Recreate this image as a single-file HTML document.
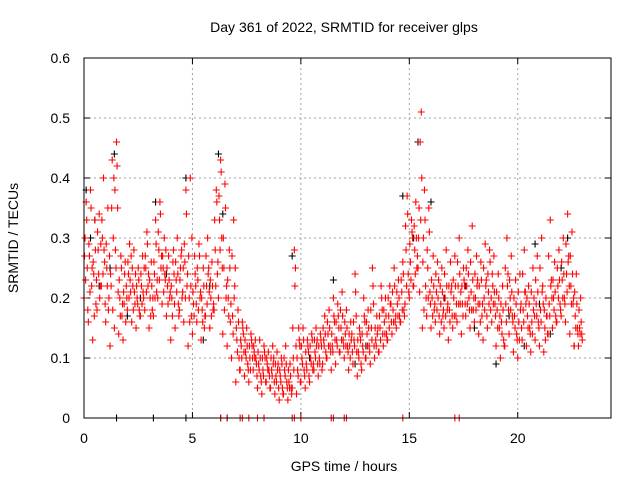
<!DOCTYPE html>
<html><head><meta charset="utf-8"><style>
body{margin:0;background:#fff;font-family:"Liberation Sans",sans-serif}
svg text{font-family:"Liberation Sans",sans-serif;font-size:14px;fill:#000}
</style></head><body>
<svg id="chart" width="640" height="480" xmlns="http://www.w3.org/2000/svg">
<rect width="640" height="480" fill="#fff"/>
<text x="344" y="32" text-anchor="middle">Day 361 of 2022, SRMTID for receiver glps</text>
<text x="344" y="471" text-anchor="middle">GPS time / hours</text>
<text transform="translate(18,238) rotate(-90)" text-anchor="middle">SRMTID / TECUs</text>
<g id="grid"></g><g id="ticks"></g><g id="black"></g><g id="red"></g>
<rect x="84" y="58" width="527" height="360" fill="none" stroke="#000"/>
</svg>
<script>
const xTicks=[0,5,10,15,20];
const yTicks=[0,0.1,0.2,0.3,0.4,0.5,0.6];
const binStart=0, binStep=0.2;
const redBins=[
[20,30,36,25],[16,27,38,22],[13,24,33,19],[18,28,34,22],[22,30,40,26],[16,25,35,20],[12,22,43,30],[15,28,46,35],[14,20,27,17],[13,19,26,22],
[18,24,29,21],[16,22,28,19],[15,20,25,18],[17,22,27,20],[18,25,31,22],[15,20,26,18],[17,24,33,21],[20,28,36,25],[19,25,30,23],[17,22,27,20],
[13,20,26,24],[15,23,30,19],[18,25,28,21],[16,26,38,22],[12,20,40,17],[14,19,27,22],[16,23,29,20],[13,18,25,15],[17,22,30,25],[15,20,26,18],
[18,28,38,24],[20,33,43,30],[14,25,39,20],[12,20,28,16],[10,17,33,22],[6,13,18,10],[8,12,16,14],[7,11,15,9],[6,10,14,12],[8,11,13,9],
[5,9,13,7],[4,8,12,10],[6,9,11,7],[5,8,12,10],[4,7,11,9],[3,7,10,5],[4,8,12,6],[3,6,9,5],[5,10,28,25],[4,8,15,12],
[6,10,15,8],[5,9,13,11],[6,10,14,8],[8,11,15,13],[7,10,14,12],[9,13,17,11],[10,14,18,12],[8,12,20,16],[9,13,19,15],[11,15,21,13],
[10,14,18,12],[8,12,16,14],[9,13,24,17],[7,11,15,13],[8,12,20,16],[10,14,18,12],[9,15,25,19],[10,13,17,15],[11,15,22,18],[12,16,20,14],
[13,17,22,19],[14,18,25,16],[15,19,23,17],[16,21,26,18],[19,28,37,24],[20,26,33,30],[22,28,36,25],[25,35,46,51],[15,30,38,22],[17,25,35,21],
[15,20,27,18],[16,21,26,23],[14,19,25,17],[15,20,28,18],[13,18,26,22],[15,20,27,17],[16,22,30,19],[14,19,25,22],[17,22,28,20],[15,21,32,18],
[16,20,27,23],[14,19,26,17],[13,20,29,23],[15,21,28,18],[16,22,27,19],[12,18,24,15],[10,16,22,13],[12,19,30,24],[14,20,27,17],[11,17,23,14],
[10,16,24,19],[13,18,28,21],[12,17,22,15],[11,16,25,20],[13,19,27,16],[12,18,30,22],[11,15,20,17],[14,19,33,23],[15,20,26,17],[16,22,28,19],
[17,23,30,20],[16,24,34,27],[14,22,31,19],[12,17,24,15],[12,15,20,14]];
const redBins2=[
[27,23,33,18],[29,21,35,25],[26,17,28,23],[31,24,20,29],[33,24,28,19],[29,22,18,27],[24,35,18,40],[38,25,42,21],[23,17,25,19],[21,24,16,20],
[26,20,23,27],[25,18,21,24],[22,19,23,17],[24,19,21,25],[27,21,29,24],[23,17,22,20],[26,20,29,23],[31,23,34,27],[27,21,24,28],[25,19,23,21],
[22,17,28,19],[26,21,24,17],[23,27,20,25],[29,20,34,24],[27,16,22,30],[21,17,24,19],[25,18,27,21],[20,16,22,17],[27,19,24,21],[23,17,22,19],
[33,22,36,26],[37,28,41,25],[30,18,35,22],[23,17,25,19],[27,14,20,25],[15,11,16,8],[13,10,15,11],[13,10,12,8],[12,8,13,10],[12,10,10,7],
[11,8,10,6],[10,7,11,6],[10,8,8,5],[10,7,9,6],[9,6,8,5],[8,6,9,4],[10,7,9,5],[8,5,7,4],[15,8,22,12],[10,7,13,6],
[12,9,13,7],[11,8,12,7],[12,9,13,9],[13,10,12,9],[12,9,13,8],[15,12,14,10],[16,12,15,11],[14,11,17,13],[16,12,17,11],[18,13,17,12],
[16,12,15,11],[14,10,13,11],[16,12,21,11],[13,10,14,9],[14,11,17,10],[16,12,15,11],[18,13,22,12],[15,12,14,11],[17,13,20,14],[18,14,17,13],
[20,15,19,16],[21,16,22,17],[21,17,20,16],[23,18,24,17],[32,22,34,21],[29,23,31,22],[32,24,30,27],[30,21,33,40],[26,18,33,20],[28,20,31,19],
[23,17,22,19],[24,18,20,17],[22,16,21,18],[24,17,22,19],[22,16,21,17],[23,17,22,19],[26,19,24,21],[22,17,23,19],[25,19,24,18],[26,18,23,20],
[24,18,22,19],[22,16,23,19],[25,18,22,17],[24,19,26,20],[24,19,21,17],[21,15,20,17],[19,14,18,12],[25,16,22,18],[23,18,21,16],[20,15,19,13],
[21,13,18,15],[24,16,21,19],[20,15,19,14],[21,14,18,17],[23,17,21,15],[25,16,21,19],[18,13,17,14],[27,17,22,20],[23,18,21,16],[25,20,23,18],
[26,20,24,19],[29,21,26,22],[27,19,24,20],[21,15,19,14],[18,14,16,13]];
const blackTimes=[0.1,0.5,1.4,3.3,4.7,6.2,9.6,11.5,14.7,15.4,16.0,19.0,20.8,22.3,5.5,2.0,12.5,18.0,8.0,21.5,0.3,0.7,1.2,2.6,3.8,4.4,5.8,6.4,10.4,13.0,15.2,16.6,17.6,19.6,20.3,21.0,22.0,22.6];
const blackValues=[0.38,0.33,0.44,0.36,0.40,0.44,0.27,0.23,0.37,0.46,0.36,0.09,0.29,0.30,0.13,0.17,0.09,0.15,0.05,0.14,0.3,0.22,0.25,0.2,0.24,0.18,0.22,0.34,0.1,0.12,0.3,0.2,0.22,0.17,0.12,0.19,0.25,0.12];
const redZeroTimes=[6.3,6.6,7.2,7.3,7.6,8.0,8.3,9.6,9.7,10.0,11.4,11.5,12.0,12.1,14.7,17.1,17.3];
const blackZeroTimes=[1.5,3.2,4.7,6.3,6.6];
const X0=84,X1=611,Y0=418,Y1=58,XMAX=24.3,YMAX=0.6;
const xs=t=>X0+(X1-X0)*t/XMAX, ys=v=>Y0-(Y0-Y1)*v/YMAX;
const NS="http://www.w3.org/2000/svg";
function mk(tag,attrs,parent){const e=document.createElementNS(NS,tag);for(const k in attrs)e.setAttribute(k,attrs[k]);parent.appendChild(e);return e;}
const grid=document.getElementById('grid'),ticks=document.getElementById('ticks');
xTicks.forEach(t=>{const x=xs(t);
 const g=mk('line',{x1:x,x2:x,y1:Y1,y2:Y0,stroke:'#a0a0a0','stroke-dasharray':'2,3'},grid);
 
 mk('line',{x1:x,x2:x,y1:Y0,y2:Y0-6,stroke:'#000'},ticks);mk('line',{x1:x,x2:x,y1:Y1,y2:Y1+6,stroke:'#000'},ticks);
 const l=mk('text',{x:x,y:443,'text-anchor':'middle'},ticks);l.textContent=t;
 });
yTicks.forEach(v=>{const y=ys(v);
 const g=mk('line',{x1:X0,x2:X1,y1:y,y2:y,stroke:'#a0a0a0','stroke-dasharray':'2,3'},grid);
 
 mk('line',{x1:X0,x2:X0+6,y1:y,y2:y,stroke:'#000'},ticks);mk('line',{x1:X1,x2:X1-6,y1:y,y2:y,stroke:'#000'},ticks);
 const l=mk('text',{x:70,y:y+5,'text-anchor':'end'},ticks);l.textContent=v===0?'0':v.toFixed(1);
 });
function plus(t,v,col,parent){const x=xs(t),y=ys(v);
 const p=mk('path',{d:`M${x-3.5},${y}h7M${x},${y-3.5}v7`,stroke:col,'stroke-width':1.1,fill:'none'},parent);
 }
const bg=document.getElementById('black'),rg=document.getElementById('red');
blackTimes.forEach((t,i)=>plus(t,blackValues[i],'#000',bg));
blackZeroTimes.forEach(t=>plus(t,0,'#000',bg));
redBins.forEach((b,i)=>{const t=binStart+i*binStep;b.forEach((v,j)=>plus(t+j*0.05,v/100,'#f00',rg));});
redBins2.forEach((b,i)=>{const t=binStart+i*binStep+0.025;b.forEach((v,j)=>plus(t+j*0.05,v/100,'#f00',rg));});
redZeroTimes.forEach(t=>plus(t,0,'#f00',rg));
</script>
</body></html>
